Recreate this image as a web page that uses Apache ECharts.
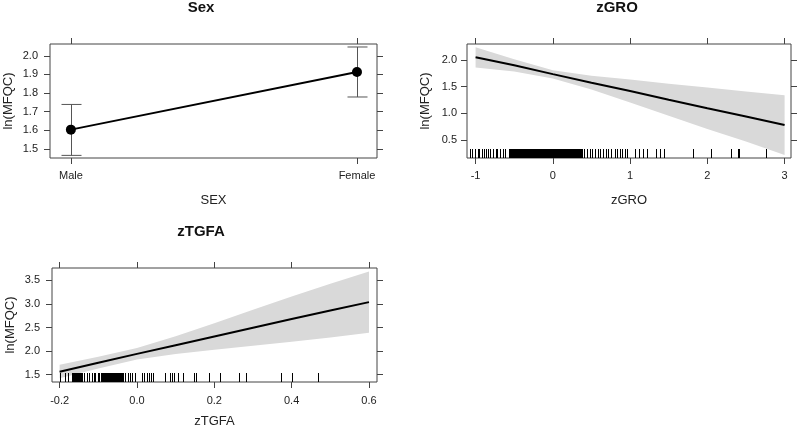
<!DOCTYPE html>
<html>
<head>
<meta charset="utf-8">
<script src="https://cdn.jsdelivr.net/npm/echarts@6/dist/echarts.min.js"></script>
<style>
html,body{margin:0;padding:0;background:#fff;}
#chart{width:800px;height:430px;}
</style>
</head>
<body>
<div id="chart"></div>
<script>
// ---------- DATA ----------
const sexCategories = ['Male', 'Female'];
const sexFit   = [1.604, 1.913];
const sexLower = [1.466, 1.779];
const sexUpper = [1.739, 2.047];
const sexYTicks = [1.5, 1.6, 1.7, 1.8, 1.9, 2.0];

const groX     = [-1, -0.5, 0, 0.5, 1, 1.5, 2, 2.5, 3];
const groFit   = [2.05, 1.90, 1.735, 1.575, 1.42, 1.255, 1.095, 0.94, 0.78];
const groUpper = [2.24, 2.015, 1.81, 1.705, 1.635, 1.555, 1.485, 1.41, 1.34];
const groLower = [1.86, 1.785, 1.655, 1.445, 1.205, 0.955, 0.705, 0.47, 0.22];
const groXTicks = [-1, 0, 1, 2, 3];
const groYTicks = [0.5, 1.0, 1.5, 2.0];
const groRug = [
  -1.07, -1.04, -1.01, -0.97, -0.95, -0.92, -0.89, -0.87, -0.84, -0.81, -0.78, -0.74, -0.72, -0.68, -0.65, -0.62,
  -0.57, -0.56, -0.55, -0.54, -0.53, -0.52, -0.51, -0.50, -0.49, -0.48, -0.47, -0.46, -0.45, -0.44, -0.43, -0.42,
  -0.41, -0.40, -0.39, -0.38, -0.37, -0.36, -0.35, -0.34, -0.33, -0.32, -0.31, -0.30, -0.29, -0.28, -0.27, -0.26,
  -0.25, -0.24, -0.23, -0.22, -0.21, -0.20, -0.19, -0.18, -0.17, -0.16, -0.15, -0.14, -0.13, -0.12, -0.11, -0.10,
  -0.09, -0.08, -0.07, -0.06, -0.05, -0.04, -0.03, -0.02, -0.01, 0.00, 0.01, 0.02, 0.03, 0.04, 0.05, 0.06, 0.07,
  0.08, 0.09, 0.10, 0.11, 0.12, 0.13, 0.14, 0.15, 0.16, 0.17, 0.18, 0.19, 0.20, 0.21, 0.22, 0.23,
  0.25, 0.26, 0.27, 0.28, 0.29, 0.30, 0.31, 0.32, 0.33, 0.34, 0.35, 0.36,
  0.377, 0.407, 0.442, 0.476, 0.511, 0.546, 0.580, 0.614, 0.649, 0.683, 0.718, 0.753, 0.809, 0.830, 0.864, 0.895,
  0.929, 0.960, 1.067, 1.11, 1.167, 1.219, 1.339, 1.382, 1.443, 1.81, 2.047, 2.30, 2.395, 2.405, 2.76
];

const tgfaX     = [-0.2, -0.1, 0, 0.1, 0.2, 0.3, 0.4, 0.5, 0.6];
const tgfaFit   = [1.56, 1.75, 1.94, 2.125, 2.31, 2.495, 2.68, 2.86, 3.04];
const tgfaUpper = [1.71, 1.88, 2.065, 2.315, 2.59, 2.875, 3.16, 3.43, 3.69];
const tgfaLower = [1.42, 1.63, 1.82, 1.935, 2.03, 2.115, 2.20, 2.29, 2.39];
const tgfaXTicks = [-0.2, 0.0, 0.2, 0.4, 0.6];
const tgfaYTicks = [1.5, 2.0, 2.5, 3.0, 3.5];
const tgfaRug = [
  -0.2, -0.185, -0.179,
  -0.168, -0.165, -0.163, -0.160, -0.157, -0.155, -0.152, -0.149, -0.147, -0.144, -0.141, -0.138,
  -0.129, -0.124, -0.116, -0.112, -0.108,
  -0.102, -0.099, -0.097, -0.094, -0.091, -0.089, -0.086, -0.083, -0.081, -0.078, -0.075, -0.073, -0.070,
  -0.067, -0.065, -0.062, -0.059, -0.057, -0.054, -0.051, -0.049, -0.046, -0.043, -0.041, -0.038, -0.035,
  -0.030, -0.022, -0.017, -0.012, -0.004,
  0.013, 0.017, 0.025, 0.031, 0.037, 0.042,
  0.073, 0.085, 0.090, 0.097, 0.107, 0.119, 0.147, 0.153, 0.187, 0.216, 0.265, 0.282, 0.373, 0.402, 0.469
];

// ---------- STYLE / LAYOUT ----------
const FONT = "'Liberation Sans', Arial, sans-serif";
const BOX = '#444';
const BAND = '#d9d9d9';
const ranges = [
  { x: [-0.073, 1.07], y: [1.452, 2.063] },
  { x: [-1.111, 3.083], y: [0.1625, 2.3] },
  { x: [-0.2197, 0.6207], y: [1.342, 3.765] }
];
const grids = [
  { left: 50, top: 44, width: 327, height: 114 },
  { left: 467, top: 44, width: 324, height: 114 },
  { left: 52, top: 268, width: 325, height: 114 }
];

const chart = echarts.init(document.getElementById('chart'), null, { renderer: 'canvas' });

function xAxes(gi, ticks, fmt, name, nameGap, labelMargin) {
  const r = ranges[gi];
  return [
    {
      type: 'value', gridIndex: gi, position: 'bottom', min: r.x[0], max: r.x[1],
      axisLine: { show: false, onZero: false }, splitLine: { show: false },
      axisTick: { show: true, length: 6, lineStyle: { color: BOX }, customValues: ticks },
      axisLabel: { show: true, customValues: ticks, formatter: fmt, color: '#222', fontSize: 11, fontFamily: FONT, margin: labelMargin },
      name: name, nameLocation: 'middle', nameGap: nameGap,
      nameTextStyle: { fontSize: 13, color: '#222', fontFamily: FONT }
    },
    {
      type: 'value', gridIndex: gi, position: 'top', min: r.x[0], max: r.x[1],
      axisLine: { show: false, onZero: false }, splitLine: { show: false },
      axisTick: { show: true, length: 6, lineStyle: { color: BOX }, customValues: ticks },
      axisLabel: { show: false }
    }
  ];
}
function yAxes(gi, ticks, name, nameGap, labelMargin) {
  const r = ranges[gi];
  return [
    {
      type: 'value', gridIndex: gi, position: 'left', min: r.y[0], max: r.y[1],
      axisLine: { show: false, onZero: false }, splitLine: { show: false },
      axisTick: { show: true, length: 6, lineStyle: { color: BOX }, customValues: ticks },
      axisLabel: { show: true, customValues: ticks, formatter: v => v.toFixed(1), color: '#222', fontSize: 11, fontFamily: FONT, margin: labelMargin },
      name: name, nameLocation: 'middle', nameGap: nameGap,
      nameTextStyle: { fontSize: 13, color: '#222', fontFamily: FONT }
    },
    {
      type: 'value', gridIndex: gi, position: 'right', min: r.y[0], max: r.y[1],
      axisLine: { show: false, onZero: false }, splitLine: { show: false },
      axisTick: { show: true, length: 6, lineStyle: { color: BOX }, customValues: ticks },
      axisLabel: { show: false }
    }
  ];
}

// confidence band as a single polygon built through the axis scales
function bandSeries(gi, xs, lower, upper) {
  return {
    type: 'custom', xAxisIndex: gi * 2, yAxisIndex: gi * 2, z: 1, silent: true,
    encode: { x: 0, y: [1, 2] },
    data: xs.map((x, i) => [x, lower[i], upper[i]]),
    renderItem: function (params, api) {
      if (params.dataIndex !== 0) return null;
      const pts = [];
      for (let i = 0; i < xs.length; i++) pts.push(api.coord([xs[i], upper[i]]));
      for (let i = xs.length - 1; i >= 0; i--) pts.push(api.coord([xs[i], lower[i]]));
      return { type: 'polygon', shape: { points: pts }, style: { fill: BAND, stroke: null } };
    }
  };
}
function fitSeries(gi, xs, fit) {
  return {
    type: 'line', xAxisIndex: gi * 2, yAxisIndex: gi * 2, symbol: 'none',
    lineStyle: { color: '#000', width: 2 }, data: xs.map((x, i) => [x, fit[i]]), z: 3
  };
}
function rugSeries(gi, rug) {
  const yMin = ranges[gi].y[0];
  return {
    type: 'custom', xAxisIndex: gi * 2, yAxisIndex: gi * 2, z: 4, silent: true,
    encode: { x: 0, y: 1 },
    data: rug.map(v => [v, yMin]),
    renderItem: function (params, api) {
      const p = api.coord([api.value(0), api.value(1)]);
      const x = Math.round(p[0]) + 0.5;
      return {
        type: 'line',
        shape: { x1: x, y1: p[1], x2: x, y2: p[1] - 9 },
        style: { stroke: '#000', lineWidth: 1 }
      };
    }
  };
}

const option = {
  animation: false,
  backgroundColor: '#fff',
  title: [
    { text: 'Sex', left: 201, top: 0, textAlign: 'center', padding: 0, textStyle: { fontSize: 15, fontWeight: 'bold', color: '#111', fontFamily: FONT } },
    { text: 'zGRO', left: 617, top: 0, textAlign: 'center', padding: 0, textStyle: { fontSize: 15, fontWeight: 'bold', color: '#111', fontFamily: FONT } },
    { text: 'zTGFA', left: 201, top: 224, textAlign: 'center', padding: 0, textStyle: { fontSize: 15, fontWeight: 'bold', color: '#111', fontFamily: FONT } }
  ],
  grid: grids.map(g => Object.assign({ show: true, borderColor: BOX, borderWidth: 1, backgroundColor: 'transparent', outerBoundsMode: 'none' }, g)),
  xAxis: [].concat(
    xAxes(0, [0, 1], v => sexCategories[Math.round(v)], 'SEX', 36, 12),
    xAxes(1, groXTicks, v => String(Math.round(v)), 'zGRO', 36, 12),
    xAxes(2, tgfaXTicks, v => v.toFixed(1), 'zTGFA', 33, 13)
  ),
  yAxis: [].concat(
    yAxes(0, sexYTicks, 'ln(MFQC)', 35, 12),
    yAxes(1, groYTicks, 'ln(MFQC)', 35, 10),
    yAxes(2, tgfaYTicks, 'ln(MFQC)', 35, 12)
  ),
  series: [
    {
      type: 'custom', xAxisIndex: 0, yAxisIndex: 0, z: 2, silent: true,
      encode: { x: 0, y: [1, 2] },
      data: sexLower.map((l, i) => [i, l, sexUpper[i]]),
      renderItem: function (params, api) {
        const lo = api.coord([api.value(0), api.value(1)]);
        const hi = api.coord([api.value(0), api.value(2)]);
        const x = Math.round(lo[0]) + 0.5;
        const st = { stroke: '#555', lineWidth: 1 };
        return {
          type: 'group',
          children: [
            { type: 'line', shape: { x1: x, y1: lo[1], x2: x, y2: hi[1] }, style: st },
            { type: 'line', shape: { x1: x - 10, y1: lo[1], x2: x + 10, y2: lo[1] }, style: st },
            { type: 'line', shape: { x1: x - 10, y1: hi[1], x2: x + 10, y2: hi[1] }, style: st }
          ]
        };
      }
    },
    {
      type: 'line', xAxisIndex: 0, yAxisIndex: 0, symbol: 'circle', symbolSize: 10, z: 3,
      itemStyle: { color: '#000' }, lineStyle: { color: '#000', width: 2 },
      data: sexFit.map((v, i) => [i, v])
    },
    bandSeries(1, groX, groLower, groUpper),
    fitSeries(1, groX, groFit),
    rugSeries(1, groRug),
    bandSeries(2, tgfaX, tgfaLower, tgfaUpper),
    fitSeries(2, tgfaX, tgfaFit),
    rugSeries(2, tgfaRug)
  ]
};
chart.setOption(option);
</script>
</body>
</html>
